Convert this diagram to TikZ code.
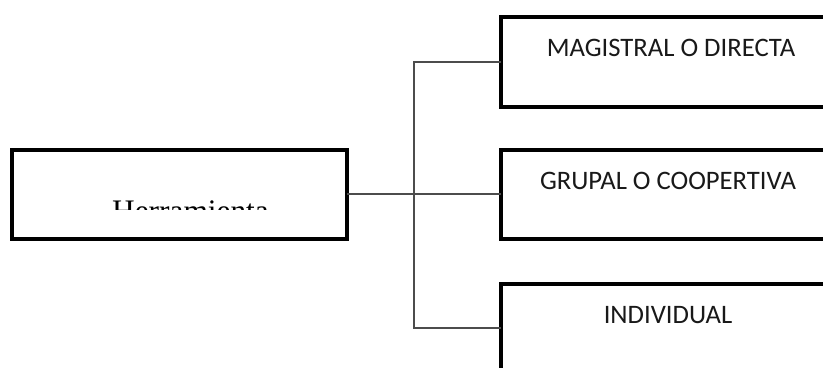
\documentclass[tikz,border=0pt]{standalone}
\usepackage{fontspec}
\setmainfont{Liberation Serif}
\newfontfamily\boxfont{Carlito}
\begin{document}
\begin{tikzpicture}[x=0.75pt,y=-0.75pt,
  box/.style={draw=black, line width=3pt, fill=white, rectangle, inner sep=0pt, outer sep=0pt},
  lbl/.style={font=\boxfont\fontsize{20}{24}\selectfont, text=black!90, anchor=base, inner sep=0pt},
  conn/.style={draw=black!70, line width=1.1pt}]
\useasboundingbox (0,0) rectangle (823,367);
\clip (0,0) rectangle (823,367);
% boxes
\node[box, minimum width=335*0.75pt, minimum height=89*0.75pt] (L) at (179.5,194) {};
\node[box, minimum width=332*0.75pt, minimum height=90*0.75pt] (A) at (667,62) {};
\node[box, minimum width=332*0.75pt, minimum height=89*0.75pt] (B) at (667,194) {};
\node[box, minimum width=332*0.75pt, minimum height=89*0.75pt] (C) at (667,328) {};
% junction
\coordinate (j) at (414,194);
\draw[conn] (L.east) -- (B.west);
\draw[conn] (A.west) -- (A.west -| j) -- (C.west -| j) -- (C.west);
% labels
\node[lbl] (ta) at (671,56.5) {MAGISTRAL O DIRECTA};
\node[lbl] (tb) at (668,189) {GRUPAL O COOPERTIVA};
\node[lbl] (tc) at (668,323.5) {INDIVIDUAL};
\begin{scope}
\clip (0,0) rectangle (823,209);
\node[font=\fontsize{23.5}{28}\selectfont, anchor=base, inner sep=0pt] (tl) at (190.5,221) {Herramienta};
\end{scope}
\end{tikzpicture}
\end{document}
